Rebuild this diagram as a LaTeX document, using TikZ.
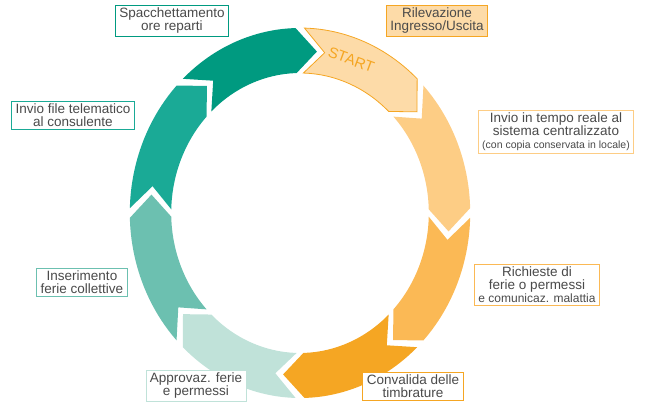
\documentclass[tikz,border=0pt]{standalone}
\usepackage{fontspec}
\setmainfont{Liberation Sans}
\begin{document}
\begin{tikzpicture}[x=1pt,y=1pt,
  lab/.style={draw=#1,line width=0.8pt,fill=white,text=txt,align=center,inner xsep=4pt,inner ysep=2.5pt,font=\fontsize{13.5}{13}\selectfont},
  seg/.style={fill=#1,draw=none}]
\definecolor{txt}{HTML}{4A4A4A}
\definecolor{c1}{HTML}{FDDBA8}
\definecolor{c2}{HTML}{FDCD85}
\definecolor{c3}{HTML}{FBB955}
\definecolor{c4}{HTML}{F5A623}
\definecolor{c5}{HTML}{C0E2D9}
\definecolor{c6}{HTML}{6CC0B0}
\definecolor{c7}{HTML}{1AAA96}
\definecolor{c8}{HTML}{009A80}
\useasboundingbox (0,0) rectangle (650,410);
\begin{scope}[shift={(300,197)},xscale=0.92]
\foreach \A/\c in {90/c1,45/c2,0/c3,-45/c4,-90/c5,-135/c6,180/c7,135/c8}{
  \pgfmathsetmacro\Ag{\A-1.5}
  \pgfmathsetmacro\Bg{\A-45+1.5}
  \pgfmathsetmacro\Bt{\A-45+1.5-8}
  \pgfmathsetmacro\At{\A-1.5-8}
  \fill[\c] (\Ag:185) arc[start angle=\Ag,end angle=\Bg,radius=185] -- (\Bt:162.5) -- (\Bg:140)
     arc[start angle=\Bg,end angle=\Ag,radius=140] -- (\At:162.5) -- cycle;
}
\pgfmathsetmacro\Ag{88.5}\pgfmathsetmacro\Bg{46.5}
\draw[c4,line width=0.8pt] (\Ag:185) arc[start angle=\Ag,end angle=\Bg,radius=185] -- (38.5:162.5) -- (\Bg:140)
     arc[start angle=\Bg,end angle=\Ag,radius=140] -- (80.5:162.5) -- cycle;
\node[text=c4,rotate=-20,inner sep=0pt,font=\fontsize{15}{15}\selectfont] (start) at (70:163) {START};
\end{scope}
\node[lab=c8] (n1) at (172,389) {Spacchettamento\\ore reparti};
\node[lab=c4,fill=c1] (n2) at (437,389) {Rilevazione\\Ingresso/Uscita};
\node[lab=c2] (n3) at (556,278) {Invio in tempo reale al\\sistema centralizzato\\{\fontsize{10.5}{12}\selectfont(con copia conservata in locale)}};
\node[lab=c3] (n4) at (537,125) {Richieste di\\ferie o permessi\\{\fontsize{12}{12}\selectfont e comunicaz. malattia}};
\node[lab=c4] (n5) at (413,24) {Convalida delle\\timbrature};
\node[lab=c5] (n6) at (196,24) {Approvaz. ferie\\e permessi};
\node[lab=c6] (n7) at (82,128) {Inserimento\\ferie collettive};
\node[lab=c7] (n8) at (73,295) {Invio file telematico\\al consulente};
\end{tikzpicture}
\end{document}
